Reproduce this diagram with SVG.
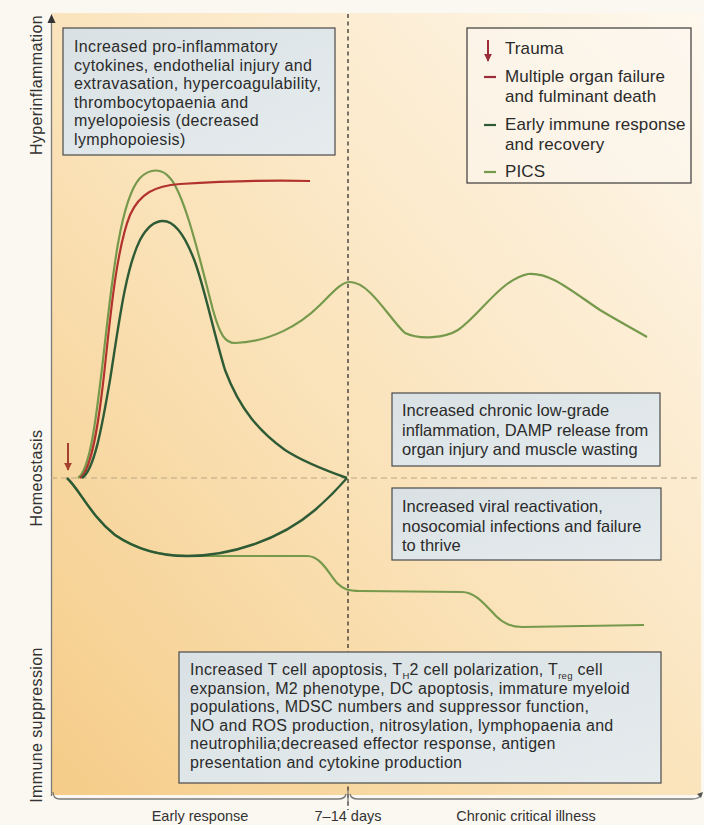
<svg xmlns="http://www.w3.org/2000/svg" width="704" height="825" viewBox="0 0 704 825">
<defs>
<linearGradient id="bg" x1="0" y1="1" x2="1" y2="0">
<stop offset="0" stop-color="#f5cc88"/>
<stop offset="0.45" stop-color="#fae2b8"/>
<stop offset="1" stop-color="#fef8ee"/>
</linearGradient>
<linearGradient id="boxfill" x1="0" y1="0" x2="1" y2="1">
<stop offset="0" stop-color="#d9e1e4"/>
<stop offset="1" stop-color="#e6ecee"/>
</linearGradient>
<marker id="ah" viewBox="0 0 10 10" refX="9" refY="5" markerWidth="8" markerHeight="8" orient="auto" markerUnits="userSpaceOnUse">
<path d="M0,0 L10,5 L0,10 Z" fill="#9b2c3a"/>
</marker>
<marker id="ah2" viewBox="0 0 10 10" refX="9" refY="5" markerWidth="8" markerHeight="8" orient="auto" markerUnits="userSpaceOnUse">
<path d="M0,0 L10,5 L0,10 Z" fill="#a5402f"/>
</marker>
<style>
text{font-family:"Liberation Sans",Arial,sans-serif;fill:#2b2b2b;font-size:16px}
.tb{font-size:16px;letter-spacing:0.35px}
.lg{font-size:17px;letter-spacing:0.1px}
.cb{font-size:16.5px}
.bb{font-size:16px;letter-spacing:0.3px}
.box{fill:url(#boxfill);stroke:#4a4a4a;stroke-width:1.2}
.ax{font-size:16px;letter-spacing:0.4px;fill:#333}
.xl{font-size:14.5px;fill:#333}
.red{fill:none;stroke:#b2332e;stroke-width:2.2}
.dg{fill:none;stroke:#2e5a35;stroke-width:2.4}
.pics{fill:none;stroke:#76994c;stroke-width:2.2}
.axis{fill:none;stroke:#7a7a7a;stroke-width:1.3}
</style>
</defs>
<rect width="704" height="825" fill="#fbf8f2"/>
<rect x="51" y="13" width="650" height="782" fill="url(#bg)"/>

<g id="axes">
<line class="axis" x1="51.5" y1="22" x2="51.5" y2="796"/>
<path d="M51.5,14 L47.5,23 L55.5,23 Z" fill="#333"/>
<line x1="51" y1="478" x2="701" y2="478" stroke="#b9a584" stroke-width="1.2" stroke-dasharray="6,4"/>
<line x1="348" y1="14" x2="348" y2="810" stroke="#222" stroke-width="1.2" stroke-dasharray="4,3.5"/>
<path class="axis" d="M53,792 Q53,799 60,799 L338,799 Q345,799 346,794"/>
<path class="axis" d="M350,794 Q351,799 358,799 L692,799 Q699,799 701,795"/>
<path d="M703,792 L697,794 L701,798 Z" fill="#555"/>
<line class="axis" x1="348" y1="790" x2="348" y2="806"/>
<text class="ax" transform="translate(42,85) rotate(-90)" text-anchor="middle">Hyperinflammation</text>
<text class="ax" transform="translate(42,478) rotate(-90)" text-anchor="middle">Homeostasis</text>
<text class="ax" transform="translate(42,725) rotate(-90)" text-anchor="middle">Immune suppression</text>
<text class="xl" x="200" y="821" text-anchor="middle">Early response</text>
<text class="xl" x="348" y="821" text-anchor="middle">7–14 days</text>
<text class="xl" x="526" y="821" text-anchor="middle">Chronic critical illness</text>
</g>

<g id="box-hyper">
<rect class="box" x="63" y="28" width="272" height="127"/>
<text class="tb" x="74" y="52">Increased pro-inflammatory</text>
<text class="tb" x="74" y="70.5">cytokines, endothelial injury and</text>
<text class="tb" x="74" y="89">extravasation, hypercoagulability,</text>
<text class="tb" x="74" y="107.5">thrombocytopaenia and</text>
<text class="tb" x="74" y="126">myelopoiesis (decreased</text>
<text class="tb" x="74" y="144.5">lymphopoiesis)</text>
</g>

<g id="legend">
<rect x="467" y="28" width="224" height="155" fill="#fbf7f0" fill-opacity="0.6" stroke="#3a3a3a" stroke-width="1.2"/>
<line x1="488" y1="40" x2="488" y2="61" stroke="#9b2c3a" stroke-width="2" marker-end="url(#ah)"/>
<text class="lg" x="505" y="54">Trauma</text>
<line x1="484" y1="77" x2="496" y2="77" stroke="#9b2c3a" stroke-width="2.2"/>
<text class="lg" x="505" y="82">Multiple organ failure</text>
<text class="lg" x="505" y="102">and fulminant death</text>
<line x1="484" y1="125" x2="496" y2="125" stroke="#2e5a35" stroke-width="2.2"/>
<text class="lg" x="505" y="130">Early immune response</text>
<text class="lg" x="505" y="150">and recovery</text>
<line x1="484" y1="172" x2="496" y2="172" stroke="#76994c" stroke-width="2.2"/>
<text class="lg" x="505" y="177">PICS</text>
</g>

<g id="box-chronic">
<rect class="box" x="392" y="393" width="268" height="73"/>
<text class="cb" x="402" y="416">Increased chronic low-grade</text>
<text class="cb" x="402" y="435.5">inflammation, DAMP release from</text>
<text class="cb" x="402" y="455">organ injury and muscle wasting</text>
</g>

<g id="box-viral">
<rect class="box" x="392" y="488" width="269" height="72"/>
<text class="cb" x="402" y="512">Increased viral reactivation,</text>
<text class="cb" x="402" y="531.5">nosocomial infections and failure</text>
<text class="cb" x="402" y="551">to thrive</text>
</g>

<g id="box-suppression">
<rect class="box" x="179" y="652" width="482" height="131"/>
<text class="bb" x="190" y="675">Increased T cell apoptosis, T<tspan font-size="9.5" dy="4">H</tspan><tspan dy="-4">2 cell polarization, T</tspan><tspan font-size="9.5" dy="4">reg</tspan><tspan dy="-4"> cell</tspan></text>
<text class="bb" x="190" y="693.5">expansion, M2 phenotype, DC apoptosis, immature myeloid</text>
<text class="bb" x="190" y="712">populations, MDSC numbers and suppressor function,</text>
<text class="bb" x="190" y="730.5">NO and ROS production, nitrosylation, lymphopaenia and</text>
<text class="bb" x="190" y="749">neutrophilia;decreased effector response, antigen</text>
<text class="bb" x="190" y="767.5">presentation and cytokine production</text>
</g>

<g id="trauma">
<line x1="68" y1="443" x2="68" y2="470" stroke="#a5402f" stroke-width="2" marker-end="url(#ah2)"/>
</g>

<g id="curves">
<path class="pics" d="M67,478 C80,490 90,515 115,535 C140,552 165,556 190,556 L307,556 C321,556 329,574 337,583 C343,589 348,591 360,591 L462,592 C476,592 486,606 496,616 C503,623 510,627 522,627 L644,625"/>
<path class="dg" d="M67,478 C80,490 90,515 115,535 C140,552 165,556 187,556 C230,556 280,540 315,510 C330,497 340,486 347,478"/>
<path class="pics" d="M78,478 C90,470 96,420 103,360 C112,280 120,200 140,178 C150,168 162,168 170,178 C185,195 200,260 213,310 C220,335 225,343 235,343 C270,342 300,325 320,305 C335,290 342,282 350,282 C370,282 390,320 405,333 C420,340 445,338 458,330 C480,315 500,280 528,274 C550,272 570,290 600,310 C620,322 635,330 647,337"/>
<path class="red" d="M80,478 C92,470 99,420 104,375 C110,320 116,250 130,215 C140,193 155,186 180,184 C230,181 270,180 310,181"/>
<path class="dg" d="M82,478 C95,470 103,420 110,380 C118,330 125,270 140,240 C148,225 156,221 163,221 C175,221 185,235 195,262 C205,290 213,330 225,370 C240,410 260,432 285,450 C305,463 330,472 347,478"/>
</g>
</svg>
